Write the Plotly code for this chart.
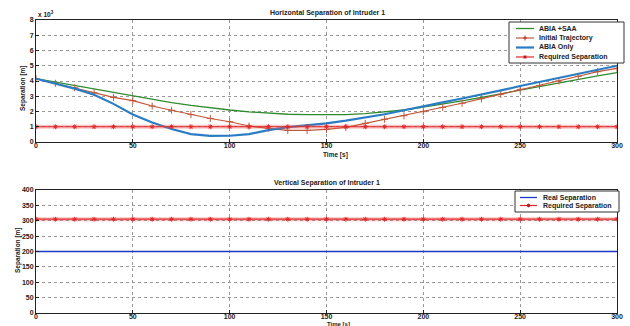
import plotly.graph_objects as go

# ---------------- data ----------------
time_s = list(range(0, 301, 10))

# Horizontal separation (x 10^3 m)
abia_saa = [4.15, 3.92, 3.70, 3.48, 3.23, 3.00, 2.78, 2.58, 2.40, 2.24, 2.10,
            1.98, 1.88, 1.82, 1.79, 1.78, 1.80, 1.86, 1.96, 2.10, 2.28,
            2.48, 2.70, 2.93, 3.17, 3.41, 3.65, 3.88, 4.10, 4.33, 4.55]
initial_traj = [4.15, 3.85, 3.56, 3.23, 2.93, 2.71, 2.36, 2.08, 1.80, 1.54, 1.33,
                1.05, 0.90, 0.76, 0.76, 0.83, 0.96, 1.22, 1.49, 1.72, 1.99,
                2.27, 2.54, 2.84, 3.13, 3.45, 3.69, 4.00, 4.31, 4.61, 4.83]
abia_only = [4.15, 3.85, 3.50, 3.10, 2.50, 1.80, 1.28, 0.85, 0.52, 0.40, 0.41,
             0.52, 0.78, 0.97, 1.10, 1.22, 1.40, 1.60, 1.82, 2.08, 2.36,
             2.60, 2.85, 3.10, 3.38, 3.67, 3.93, 4.20, 4.47, 4.73, 5.00]
required_h = [1.0] * len(time_s)

# Vertical separation (m)
real_v = [200] * len(time_s)
required_v = [305] * len(time_s)

x_ticks = [0, 50, 100, 150, 200, 250, 300]
h_ticks = [0, 1, 2, 3, 4, 5, 6, 7, 8]
v_ticks = [0, 50, 100, 150, 200, 250, 300, 350, 400]

top_names = ["ABIA +SAA", "Initial Trajectory", "ABIA Only", "Required Separation"]
bottom_names = ["Real Separation", "Required Separation"]

# ---------------- figure ----------------
W, H = 630, 326
def px(xp): return xp / W
def py(yp): return 1 - yp / H

FONT = "Liberation Sans"
GREEN = "#2e8b2e"
BROWN = "#c0573a"
BLUE = "#2a7cc4"
RED = "#e02828"
RBLUE = "#2038c8"
GLOW = "rgba(240,90,90,0.35)"

fig = go.Figure()

# top plot
fig.add_trace(go.Scatter(x=time_s, y=abia_saa, mode="lines", name=top_names[0],
                         line=dict(color=GREEN, width=1.3), xaxis="x", yaxis="y"))
fig.add_trace(go.Scatter(x=time_s, y=initial_traj, mode="lines+markers", name=top_names[1],
                         line=dict(color=BROWN, width=1.2),
                         marker=dict(symbol="cross-thin-open", size=5,
                                     line=dict(width=1, color="#b03020")),
                         xaxis="x", yaxis="y"))
fig.add_trace(go.Scatter(x=time_s, y=abia_only, mode="lines", name=top_names[2],
                         line=dict(color=BLUE, width=2.2), xaxis="x", yaxis="y"))
fig.add_trace(go.Scatter(x=time_s, y=required_h, mode="lines", hoverinfo="skip",
                         line=dict(color=GLOW, width=4), xaxis="x", yaxis="y"))
fig.add_trace(go.Scatter(x=time_s, y=required_h, mode="lines+markers", name=top_names[3],
                         line=dict(color=RED, width=1.2),
                         marker=dict(symbol="asterisk-open", size=4,
                                     line=dict(width=1, color="#c01818")),
                         xaxis="x", yaxis="y"))

# bottom plot
fig.add_trace(go.Scatter(x=time_s, y=real_v, mode="lines", name=bottom_names[0],
                         line=dict(color=RBLUE, width=1.3), xaxis="x2", yaxis="y2"))
fig.add_trace(go.Scatter(x=time_s, y=required_v, mode="lines", hoverinfo="skip",
                         line=dict(color=GLOW, width=4), xaxis="x2", yaxis="y2"))
fig.add_trace(go.Scatter(x=time_s, y=required_v, mode="lines+markers", name=bottom_names[1],
                         line=dict(color=RED, width=1.2),
                         marker=dict(symbol="asterisk-open", size=4,
                                     line=dict(width=1, color="#c01818")),
                         xaxis="x2", yaxis="y2"))

axis_common = dict(showline=True, linecolor="#222", linewidth=1, mirror=True,
                   ticks="inside", ticklen=3, tickcolor="#222",
                   showgrid=True, gridcolor="#999", griddash="dot", gridwidth=1,
                   zeroline=False,
                   tickfont=dict(family=FONT, size=7, color="#222", weight="bold"),
                   automargin=False)

xdom = [px(36), px(617)]
fig.update_layout(
    width=W, height=H, margin=dict(l=0, r=0, t=0, b=0),
    paper_bgcolor="white", plot_bgcolor="white",
    font=dict(family=FONT, color="#222"),
    showlegend=False,
    xaxis=dict(domain=xdom, range=[0, 300], tickvals=x_ticks, anchor="y",
               ticklabelstandoff=-3, **axis_common),
    yaxis=dict(domain=[py(142), py(20)], range=[0, 8], tickvals=h_ticks, anchor="x", **axis_common),
    xaxis2=dict(domain=xdom, range=[0, 300], tickvals=x_ticks, anchor="y2",
                ticklabelstandoff=-3, **axis_common),
    yaxis2=dict(domain=[py(313), py(190)], range=[0, 400], tickvals=v_ticks, anchor="x2", **axis_common),
)

ann = []
shapes = []
def A(text, x, y, size=7, angle=0, xanchor="center", yanchor="middle"):
    ann.append(dict(text=text, x=px(x), y=py(y), xref="paper", yref="paper",
                    showarrow=False, textangle=angle, xanchor=xanchor, yanchor=yanchor,
                    font=dict(family=FONT, size=size, color="#222", weight="bold")))

def L(x0, y0, x1, y1, color, width=1):
    shapes.append(dict(type="line", xref="paper", yref="paper",
                       x0=px(x0), y0=py(y0), x1=px(x1), y1=py(y1),
                       line=dict(color=color, width=width)))

A("Horizontal Separation of Intruder 1", 327, 13, size=7)
A("Vertical Separation of Intruder 1", 327, 183, size=7)
A("Time [s]", 335, 155, size=6.5)
A("Time [s]", 338, 323.5, size=6)
A("Separation [m]", 23, 88, size=6.5, angle=-90)
A("Separation [m]", 18, 250, size=6.5, angle=-90)
A("x 10<sup>3</sup>", 36, 14, size=6.5, xanchor="left")

# ---- legend boxes (drawn to match the compact original legend) ----
def legend_box(x0, y0, x1, y1):
    shapes.append(dict(type="rect", xref="paper", yref="paper",
                       x0=px(x0), y0=py(y0), x1=px(x1), y1=py(y1),
                       fillcolor="white", line=dict(color="#333", width=1), layer="above"))

def plus(x, y, color):
    L(x, y - 2.5, x, y + 2.5, color)
    L(x - 2, y, x + 2, y, color)

def star(x, y, color):
    L(x - 1.8, y, x + 1.8, y, color)
    L(x, y - 1.8, x, y + 1.8, color)
    L(x - 1.3, y - 1.3, x + 1.3, y + 1.3, color)
    L(x - 1.3, y + 1.3, x + 1.3, y - 1.3, color)

legend_box(509, 22, 624, 63)
top_rows = [28.5, 38, 47.5, 57]
top_styles = [(GREEN, 1.3, None), (BROWN, 1.2, "plus"), (BLUE, 2.2, None), (RED, 1.2, "star")]
for name, yy, (c, w, m) in zip(top_names, top_rows, top_styles):
    L(516, yy, 534, yy, c, w)
    if m == "plus":
        plus(525, yy, "#b03020")
    elif m == "star":
        star(525, yy, "#c01818")
    A(name, 537, yy, size=7, xanchor="left")

legend_box(515, 191, 619, 212)
bot_rows = [197.5, 205.5]
bot_styles = [(RBLUE, 1.3, None), (RED, 1.2, "star")]
for name, yy, (c, w, m) in zip(bottom_names, bot_rows, bot_styles):
    L(520, yy, 537, yy, c, w)
    if m == "star":
        star(528.5, yy, "#c01818")
    A(name, 541, yy, size=7, xanchor="left")

fig.update_layout(annotations=ann, shapes=shapes)

fig.write_html("out.html", config={"displayModeBar": False},
               post_script="document.body.style.margin='0';document.body.style.overflow='hidden';")
